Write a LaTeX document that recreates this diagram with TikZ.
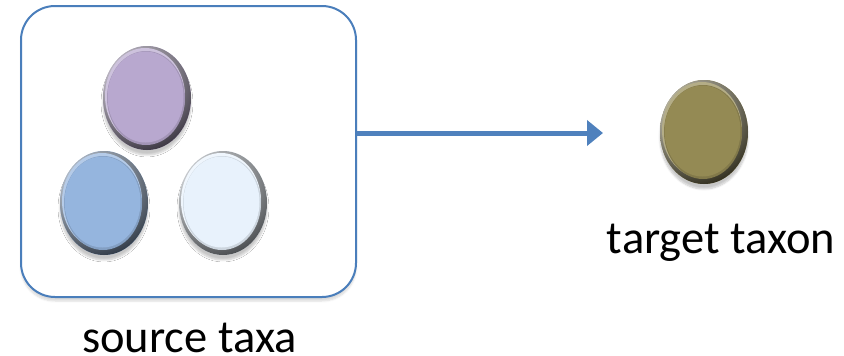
\documentclass[tikz,border=0pt]{standalone}
\usepackage{fontspec}
\setmainfont{Carlito}
\usetikzlibrary{arrows.meta,shapes.geometric,shadows.blur}
\definecolor{boxblue}{HTML}{4A7EBB}
\definecolor{arrowblue}{HTML}{4F81BD}
\definecolor{beadpurple}{HTML}{B8A8CF}
\definecolor{beadblue}{HTML}{95B5DE}
\definecolor{beadwhite}{HTML}{E8F2FC}
\definecolor{beadolive}{HTML}{948A54}
\tikzset{
  bead/.style={ellipse, minimum width=88pt, minimum height=104pt, inner sep=0pt,
    fill=#1,
    blur shadow={shadow xshift=0pt, shadow yshift=-5pt, shadow blur steps=6, shadow opacity=22},
    path picture={
      \shade[inner color=#1!25!white, outer color=#1!30!black]
        ([xshift=-16pt,yshift=20pt]path picture bounding box.center) circle (78pt);
      \fill[#1!70!white] ([xshift=-2pt,yshift=2pt]path picture bounding box.center) ellipse (40pt and 48pt);
      \fill[#1!88!black] ([xshift=-1pt,yshift=0pt]path picture bounding box.center) ellipse (39pt and 47pt);
      \fill[#1] ([xshift=-1.5pt,yshift=1pt]path picture bounding box.center) ellipse (38pt and 45.5pt);
    }},
  groupbox/.style={draw=boxblue, line width=2pt, fill=white, rounded corners=34pt,
    minimum width=335pt, minimum height=291pt, inner sep=0pt,
    blur shadow={shadow xshift=0pt, shadow yshift=-4pt, shadow blur steps=6, shadow opacity=15}},
  flowarrow/.style={draw=arrowblue, line width=5pt, -{Triangle[length=16pt,width=25pt]}},
  label/.style={font=\fontsize{46.5}{50}\selectfont, anchor=base, inner sep=0pt}
}
\begin{document}
\begin{tikzpicture}[x=1pt,y=-1pt]
\useasboundingbox (0,0) rectangle (844,356);
\node[groupbox] (src) at (188.5,151.5) {};
\node[bead=beadpurple] (p) at (147,98) {};
\node[bead=beadblue] (b) at (104,203) {};
\node[bead=beadwhite] (w) at (223,203) {};
\node[bead=beadolive] (t) at (704,132) {};
\coordinate (arrowend) at (603,133);
\draw[flowarrow] (src.east |- arrowend) -- (arrowend);
\node[label] (srclabel) at (189.5,352.5) {source taxa};
\node[label] (tgtlabel) at (721,253) {target taxon};
\end{tikzpicture}
\end{document}
